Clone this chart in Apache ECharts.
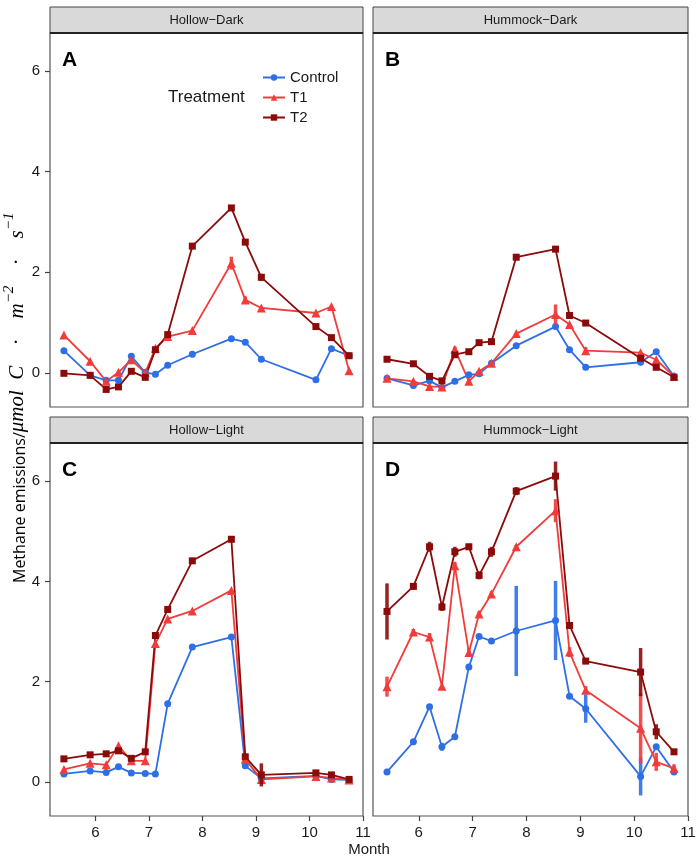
<!DOCTYPE html>
<html>
<head>
<meta charset="utf-8">
<script src="https://cdn.jsdelivr.net/npm/echarts@6/dist/echarts.min.js"></script>
<style>
  html, body { margin: 0; padding: 0; background: #fff; }
  #main { width: 699px; height: 861px; }
</style>
</head>
<body>
<div id="main"></div>
<script>
// sampling dates (fractional month), shared by all panels
var months = [5.41, 5.90, 6.20, 6.43, 6.67, 6.93, 7.12, 7.35, 7.81, 8.54, 8.80, 9.10, 10.12, 10.41, 10.74];
var xTicks = [6, 7, 8, 9, 10, 11];
var yTicks = [0, 2, 4, 6];
var panelNames = ['Hollow\u2212Dark', 'Hummock\u2212Dark', 'Hollow\u2212Light', 'Hummock\u2212Light'];
var panelLetters = ['A', 'B', 'C', 'D'];
var treatments = ['Control', 'T1', 'T2'];

// A: Hollow-Dark
var hdControl = [0.44, -0.05, -0.15, -0.15, 0.33, 0.01, -0.03, 0.15, 0.37, 0.68, 0.61, 0.27, -0.14, 0.48, 0.34];
var hdT1 = [0.75, 0.23, -0.17, 0.01, 0.26, 0.00, 0.49, 0.72, 0.84, 2.18, 1.45, 1.29, 1.19, 1.32, 0.04];
var hdT2 = [-0.01, -0.05, -0.33, -0.28, 0.03, -0.09, 0.46, 0.76, 2.52, 3.28, 2.60, 1.90, 0.92, 0.70, 0.34];
var hdControlErr = [0, 0, 0, 0, 0, 0, 0, 0, 0, 0, 0, 0, 0, 0, 0];
var hdT1Err = [0, 0, 0.04, 0, 0, 0, 0, 0, 0, 0.13, 0.07, 0, 0, 0, 0];
var hdT2Err = [0, 0, 0, 0, 0, 0, 0, 0, 0, 0, 0, 0.07, 0, 0, 0];

// B: Hummock-Dark
var hmdControl = [-0.11, -0.25, -0.16, -0.29, -0.17, -0.04, -0.02, 0.19, 0.54, 0.92, 0.46, 0.11, 0.21, 0.42, -0.07];
var hmdT1 = [-0.11, -0.17, -0.27, -0.28, 0.47, -0.17, 0.03, 0.19, 0.78, 1.16, 0.96, 0.44, 0.40, 0.26, -0.07];
var hmdT2 = [0.27, 0.18, -0.07, -0.16, 0.36, 0.42, 0.60, 0.62, 2.30, 2.46, 1.14, 0.99, 0.29, 0.11, -0.09];
var hmdControlErr = [0, 0, 0, 0, 0, 0, 0, 0, 0, 0, 0, 0, 0, 0, 0];
var hmdT1Err = [0, 0, 0, 0, 0.05, 0, 0, 0, 0, 0.2, 0, 0.07, 0, 0, 0];
var hmdT2Err = [0, 0, 0, 0, 0, 0, 0, 0, 0, 0, 0, 0, 0, 0, 0];

// C: Hollow-Light
var hlControl = [0.16, 0.22, 0.19, 0.30, 0.18, 0.17, 0.16, 1.56, 2.69, 2.89, 0.32, 0.07, 0.12, 0.05, 0.04];
var hlT1 = [0.25, 0.37, 0.34, 0.72, 0.42, 0.42, 2.76, 3.25, 3.41, 3.82, 0.45, 0.05, 0.11, 0.08, 0.04];
var hlT2 = [0.46, 0.54, 0.56, 0.62, 0.47, 0.60, 2.92, 3.44, 4.41, 4.84, 0.50, 0.14, 0.18, 0.14, 0.05];
var hlControlErr = [0, 0, 0, 0, 0, 0, 0, 0, 0, 0, 0, 0, 0, 0, 0];
var hlT1Err = [0, 0, 0, 0, 0, 0, 0, 0, 0, 0, 0.05, 0, 0, 0, 0];
var hlT2Err = [0, 0, 0, 0, 0, 0, 0, 0, 0, 0.06, 0.06, 0.23, 0, 0, 0];

// D: Hummock-Light
var hmlControl = [0.20, 0.80, 1.50, 0.70, 0.90, 2.29, 2.90, 2.81, 3.01, 3.22, 1.71, 1.46, 0.11, 0.70, 0.20];
var hmlT1 = [1.90, 2.99, 2.89, 1.91, 4.31, 2.58, 3.35, 3.75, 4.69, 5.41, 2.59, 1.83, 1.07, 0.40, 0.27];
var hmlT2 = [3.40, 3.90, 4.69, 3.49, 4.59, 4.69, 4.12, 4.59, 5.80, 6.10, 3.12, 2.41, 2.19, 1.00, 0.60];
var hmlControlErr = [0.06, 0, 0, 0.08, 0, 0, 0, 0, 0.9, 0.79, 0, 0.28, 0.38, 0, 0];
var hmlT1Err = [0.2, 0.06, 0.08, 0, 0.08, 0.08, 0.05, 0.05, 0.04, 0.23, 0.1, 0.08, 0.7, 0.18, 0.08];
var hmlT2Err = [0.56, 0.06, 0.1, 0.08, 0.1, 0.06, 0.08, 0.1, 0.08, 0.29, 0.04, 0.06, 0.48, 0.15, 0];

var panelValues = [
    [hdControl, hdT1, hdT2],
    [hmdControl, hmdT1, hmdT2],
    [hlControl, hlT1, hlT2],
    [hmlControl, hmlT1, hmlT2]
];
var panelErrors = [
    [hdControlErr, hdT1Err, hdT2Err],
    [hmdControlErr, hmdT1Err, hmdT2Err],
    [hlControlErr, hlT1Err, hlT2Err],
    [hmlControlErr, hmlT1Err, hmlT2Err]
];

var colors = ['#2f6fe6', '#f23b3b', '#8b0a0a'];
var symbols = ['circle', 'triangle', 'rect'];
var symbolSizes = [7, 9, 7];
var font = 'Liberation Sans, Arial, sans-serif';

// panel boxes (pixel layout)
var grids = [
    { left: 50, top: 33, width: 313, height: 374 },
    { left: 373, top: 33, width: 315, height: 374 },
    { left: 50, top: 443, width: 313, height: 373 },
    { left: 373, top: 443, width: 315, height: 373 }
];

function renderErr(params, api) {
    var x = api.value(0), y = api.value(1), e = api.value(2);
    if (!e) return null;
    var p1 = api.coord([x, y - e]);
    var p2 = api.coord([x, y + e]);
    return {
        type: 'line',
        shape: { x1: p1[0], y1: p1[1], x2: p2[0], y2: p2[1] },
        style: { stroke: api.visual('color'), lineWidth: 3.5, opacity: 0.9 }
    };
}

var xAxes = [], yAxes = [], series = [], graphics = [];

grids.forEach(function (g, i) {
    g.show = true;
    g.borderColor = '#555';
    g.borderWidth = 1.2;
    g.backgroundColor = '#fff';
    var bottomRow = i >= 2, leftCol = i % 2 === 0;

    xAxes.push({
        type: 'value', gridIndex: i, min: 5.15, max: 11, position: 'bottom',
        axisLine: { show: false, onZero: false },
        splitLine: { show: false },
        axisTick: { show: bottomRow, customValues: xTicks, length: 5, lineStyle: { color: '#444', width: 1.2 } },
        axisLabel: { show: bottomRow, customValues: xTicks, color: '#1a1a1a', fontSize: 15, fontFamily: font, margin: 9 }
    });
    yAxes.push({
        type: 'value', gridIndex: i, min: -0.68, max: 6.76, position: 'left',
        axisLine: { show: false, onZero: false },
        splitLine: { show: false },
        axisTick: { show: leftCol, customValues: yTicks, length: 5, lineStyle: { color: '#444', width: 1.2 } },
        axisLabel: { show: leftCol, customValues: yTicks, color: '#1a1a1a', fontSize: 15, fontFamily: font, margin: 10 }
    });

    treatments.forEach(function (name, k) {
        var vals = panelValues[i][k];
        var errs = panelErrors[i][k];
        series.push({
            name: name, type: 'line', xAxisIndex: i, yAxisIndex: i,
            data: months.map(function (m, j) { return [m, vals[j]]; }),
            symbol: symbols[k], symbolSize: symbolSizes[k], showSymbol: true,
            lineStyle: { color: colors[k], width: 1.8 },
            itemStyle: { color: colors[k] },
            z: 2, animation: false
        });
        series.push({
            name: name + ' err', type: 'custom', xAxisIndex: i, yAxisIndex: i,
            data: months.map(function (m, j) { return [m, vals[j], errs[j]]; }),
            renderItem: renderErr,
            itemStyle: { color: colors[k] },
            encode: { x: 0, y: 1 },
            z: 3, animation: false, silent: true
        });
    });

    // facet strip
    graphics.push({
        type: 'rect',
        shape: { x: g.left, y: g.top - 26, width: g.width, height: 26 },
        style: { fill: '#d9d9d9', stroke: '#444', lineWidth: 1 }
    });
    graphics.push({
        type: 'line',
        shape: { x1: g.left, y1: g.top, x2: g.left + g.width, y2: g.top },
        style: { stroke: '#222', lineWidth: 2 }
    });
    graphics.push({
        type: 'text', x: g.left + g.width / 2, y: g.top - 13,
        style: { text: panelNames[i], font: '13px ' + font, fill: '#1a1a1a', textAlign: 'center', textVerticalAlign: 'middle' }
    });
    graphics.push({
        type: 'text', x: g.left + 12, y: g.top + 27,
        style: { text: panelLetters[i], font: 'bold 21px ' + font, fill: '#000', textAlign: 'left', textVerticalAlign: 'middle' }
    });
});

// legend title
graphics.push({
    type: 'text', x: 168, y: 97,
    style: { text: 'Treatment', font: '17px ' + font, fill: '#1a1a1a', textAlign: 'left', textVerticalAlign: 'middle' }
});
// axis titles
graphics.push({
    type: 'text', x: 369, y: 850,
    style: { text: 'Month', font: '15px ' + font, fill: '#1a1a1a', textAlign: 'center', textVerticalAlign: 'middle' }
});
graphics.push({
    type: 'text', x: 15, y: 583, rotation: Math.PI / 2,
    style: {
        text: '{a|Methane emissions/}{b|\u03bcmol\u2002C\u2003\u00b7\u2003m}{s|\u22122}{b|\u2003\u00b7\u2003s}{s|\u22121}',
        textAlign: 'left', textVerticalAlign: 'middle',
        rich: {
            a: { fontFamily: 'Open Sans, sans-serif', fontSize: 16, color: '#1a1a1a', lineHeight: 26, verticalAlign: 'bottom' },
            b: { fontFamily: 'Liberation Serif, serif', fontStyle: 'italic', fontSize: 21, color: '#1a1a1a', lineHeight: 26, verticalAlign: 'bottom' },
            s: { fontFamily: 'Liberation Serif, serif', fontStyle: 'italic', fontSize: 15, color: '#1a1a1a', lineHeight: 26, verticalAlign: 'top' }
        }
    }
});

var chart = echarts.init(document.getElementById('main'), null, { renderer: 'canvas' });
chart.setOption({
    backgroundColor: '#fff',
    animation: false,
    grid: grids,
    xAxis: xAxes,
    yAxis: yAxes,
    legend: {
        data: treatments,
        orient: 'vertical',
        left: 262, top: 70, padding: 0,
        itemWidth: 22, itemHeight: 8, itemGap: 5,
        textStyle: { fontSize: 15, fontFamily: font, color: '#1a1a1a', lineHeight: 14 }
    },
    series: series,
    graphic: graphics
});
</script>
</body>
</html>
